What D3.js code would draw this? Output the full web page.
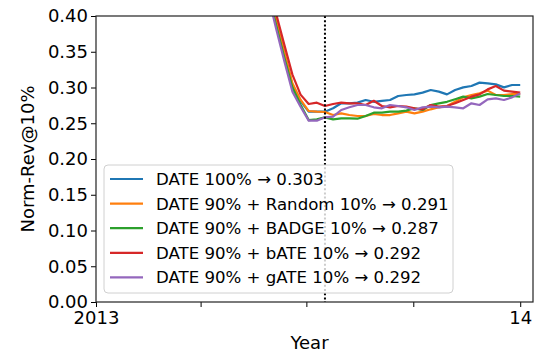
<!DOCTYPE html>
<html>
<head>
<meta charset="utf-8">
<script src="https://cdn.jsdelivr.net/npm/d3@7"></script>
<style>
  html, body { margin: 0; padding: 0; background: #fff; }
  svg { display: block; font-family: "DejaVu Sans", sans-serif; }
</style>
</head>
<body>
<svg id="chart" width="535" height="352"></svg>
<script>
// ---- data ----
const dates = [
  "2013-05-29","2013-06-05","2013-06-12","2013-06-19","2013-06-26",
  "2013-07-03","2013-07-10","2013-07-17","2013-07-24","2013-07-31",
  "2013-08-07","2013-08-14","2013-08-21","2013-08-28","2013-09-04",
  "2013-09-11","2013-09-18","2013-09-25","2013-10-02","2013-10-09",
  "2013-10-16","2013-10-23","2013-10-30","2013-11-06","2013-11-13",
  "2013-11-20","2013-11-27","2013-12-04","2013-12-11","2013-12-18",
  "2013-12-25","2014-01-01"
];
const seriesNames = [
  "DATE 100% \u2192 0.303",
  "DATE 90% + Random 10% \u2192 0.291",
  "DATE 90% + BADGE 10% \u2192 0.287",
  "DATE 90% + bATE 10% \u2192 0.292",
  "DATE 90% + gATE 10% \u2192 0.292"
];
const date100 = [0.437,0.391,0.347,0.303,0.281,
  0.2662,0.2662,0.2662,0.2709,0.2779,0.2779,0.2788,0.2825,0.2800,0.2814,0.2825,0.2881,0.2895,0.2904,0.2928,0.2965,0.2942,0.2904,0.2965,0.3002,0.3021,0.3068,0.3058,0.3044,0.3002,0.3035,0.3035];
const random10 = [0.440,0.394,0.350,0.306,0.283,
  0.2671,0.2662,0.2657,0.2615,0.2639,0.2615,0.2601,0.2601,0.2629,0.2615,0.2615,0.2639,0.2662,0.2639,0.2662,0.2695,0.2723,0.2741,0.2800,0.2862,0.2895,0.2918,0.2956,0.2895,0.2895,0.2909,0.2909];
const badge10 = [0.433,0.387,0.342,0.300,0.276,
  0.2545,0.2555,0.2583,0.2555,0.2569,0.2569,0.2564,0.2601,0.2648,0.2648,0.2662,0.2662,0.2676,0.2709,0.2685,0.2755,0.2779,0.2800,0.2835,0.2872,0.2848,0.2872,0.2909,0.2895,0.2881,0.2881,0.2872];
const bate10 = [0.450,0.403,0.360,0.318,0.290,
  0.2769,0.2788,0.2741,0.2769,0.2788,0.2779,0.2779,0.2755,0.2814,0.2741,0.2723,0.2741,0.2732,0.2709,0.2695,0.2755,0.2732,0.2741,0.2779,0.2825,0.2872,0.2904,0.2974,0.3021,0.2956,0.2942,0.2928];
const gate10 = [0.430,0.382,0.337,0.294,0.273,
  0.2536,0.2536,0.2583,0.2592,0.2685,0.2723,0.2755,0.2755,0.2723,0.2709,0.2755,0.2741,0.2723,0.2685,0.2723,0.2732,0.2723,0.2732,0.2723,0.2709,0.2779,0.2755,0.2835,0.2848,0.2825,0.2862,0.2918];
const colors = ["#1f77b4","#ff7f0e","#2ca02c","#d62728","#9467bd"];
const cutoffDate = "2013-07-17";
const xTickDates = ["2013-01-01","2013-04-01","2013-07-01","2013-10-01","2014-01-01"];
const xTickLabels = ["2013","","","","14"];
const yTicks = [0,0.05,0.10,0.15,0.20,0.25,0.30,0.35,0.40];

// ---- chart ----
const parse = d3.utcParse("%Y-%m-%d");
const allSeries = [date100, random10, badge10, bate10, gate10];
const svg = d3.select("#chart");
const L = 96, R = 533, T = 16, B = 302;

const x = d3.scaleUtc().domain([parse("2013-01-01"), parse("2014-01-12")]).range([L, R]);
const y = d3.scaleLinear().domain([0, 0.40]).range([B, T]);

svg.append("defs").append("clipPath").attr("id","clip")
  .append("rect").attr("x", L).attr("y", T).attr("width", R - L).attr("height", B - T);

// lines
const line = d3.line().x((d, i) => x(parse(dates[i]))).y(d => y(d));
const g = svg.append("g").attr("clip-path","url(#clip)");
allSeries.forEach((s, k) => {
  g.append("path").datum(s).attr("d", line)
    .attr("fill","none").attr("stroke", colors[k])
    .attr("stroke-width", 2.2).attr("stroke-linejoin","round").attr("stroke-linecap","butt");
});

// cutoff dotted line
svg.append("line")
  .attr("x1", x(parse(cutoffDate))).attr("x2", x(parse(cutoffDate)))
  .attr("y1", T).attr("y2", B)
  .attr("stroke","#000").attr("stroke-width", 2).attr("stroke-dasharray","2,2.2");

// axes
const xAxis = d3.axisBottom(x).tickValues(xTickDates.map(parse))
  .tickFormat((d, i) => xTickLabels[i]).tickSize(5).tickPadding(3);
const gx = svg.append("g").attr("transform", `translate(0,${B})`).call(xAxis);
const yAxis = d3.axisLeft(y).tickValues(yTicks).tickFormat(d3.format(".2f")).tickSize(5).tickPadding(3);
const gy = svg.append("g").attr("transform", `translate(${L},0)`).call(yAxis);
[gx, gy].forEach(a => {
  a.select(".domain").remove();
  a.selectAll(".tick line").attr("stroke","#000").attr("stroke-width",1);
  a.selectAll(".tick text").attr("font-size", 18).attr("fill","#000")
    .attr("font-family","DejaVu Sans, sans-serif");
});
gx.selectAll(".tick text").attr("dy","0.78em");

// frame
svg.append("rect").attr("x", L).attr("y", T).attr("width", R - L).attr("height", B - T)
  .attr("fill","none").attr("stroke","#222").attr("stroke-width",1.2);

// axis labels
svg.append("text").attr("x", (L + R) / 2 - 5).attr("y", 349)
  .attr("text-anchor","middle").attr("font-size", 18).text("Year");
svg.append("text").attr("transform", `translate(34,${(T + B) / 2}) rotate(-90)`)
  .attr("text-anchor","middle").attr("font-size", 18).text("Norm-Rev@10%");

// legend
const lg = svg.append("g");
lg.append("rect").attr("x", 104).attr("y", 165).attr("width", 349).attr("height", 128)
  .attr("rx", 4).attr("fill","rgba(255,255,255,0.8)").attr("stroke","#d0d0d0").attr("stroke-width",1);
seriesNames.forEach((name, k) => {
  const yy = 179 + k * 24.6;
  lg.append("line").attr("x1", 110).attr("x2", 143).attr("y1", yy).attr("y2", yy)
    .attr("stroke", colors[k]).attr("stroke-width", 2.2);
  lg.append("text").attr("x", 156).attr("y", yy).attr("dy","0.36em")
    .attr("font-size", 16.6).text(name);
});
</script>
</body>
</html>
